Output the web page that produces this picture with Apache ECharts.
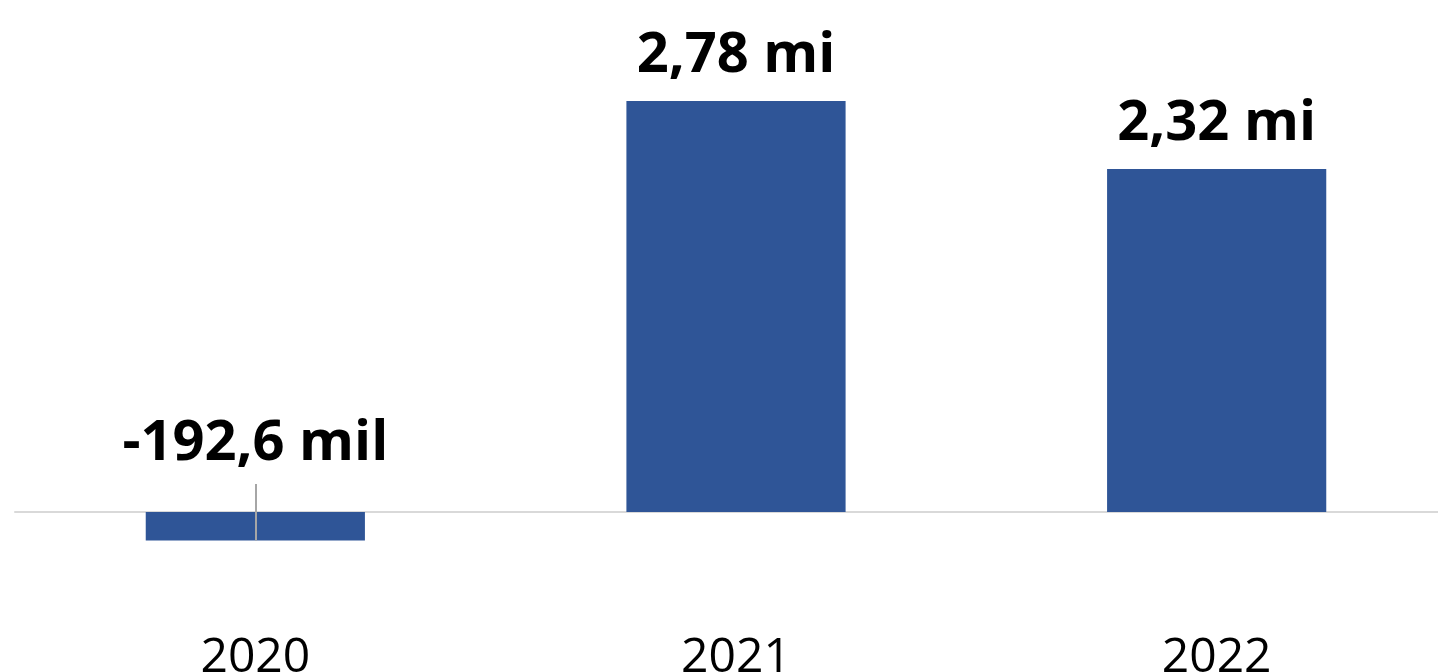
<!DOCTYPE html>
<html>
<head>
<meta charset="utf-8">
<script src="https://cdn.jsdelivr.net/npm/echarts@6/dist/echarts.min.js"></script>
<style>
html, body { margin: 0; padding: 0; background: #fff; }
#chart { width: 1438px; height: 672px; }
</style>
</head>
<body>
<div id="chart"></div>
<script>
// dados (em milhões)
var years = ["2020", "2021", "2022"];
var values = [-0.1926, 2.78, 2.32];
var valueLabels = ["-192,6 mil", "2,78 mi", "2,32 mi"];

var chart = echarts.init(document.getElementById('chart'));

var seriesData = values.map(function (v, i) {
    var item = { value: v };
    if (v < 0) {
        // rótulo acima do eixo, ligado à barra por uma linha
        item.label = { position: 'top', distance: 40 };
    }
    return item;
});

var option = {
    animation: false,
    grid: { left: 15, width: 1442, top: 0, bottom: 72, outerBoundsMode: 'none', containLabel: false },
    xAxis: {
        type: 'category',
        data: years,
        axisLine: { lineStyle: { color: '#d9d9d9', width: 2 } },
        axisTick: { show: false },
        axisLabel: {
            color: '#000',
            fontFamily: 'Open Sans',
            fontSize: 48,
            margin: 34
        }
    },
    yAxis: {
        type: 'value',
        min: -0.595,
        max: 3.464,
        show: false,
        splitLine: { show: false }
    },
    series: [{
        type: 'bar',
        data: seriesData,
        barWidth: '45.6%',
        itemStyle: { color: '#2f5597' },
        label: {
            show: true,
            position: 'top',
            distance: 17,
            color: '#000',
            fontFamily: 'Open Sans',
            fontWeight: 'bold',
            fontSize: 56,
            formatter: function (p) { return valueLabels[p.dataIndex]; }
        },
        markLine: {
            silent: true,
            symbol: 'none',
            label: { show: false },
            lineStyle: { color: '#a6a6a6', width: 2, type: 'solid' },
            data: [[
                { coord: [years[0], 0.19] },
                { coord: [years[0], values[0]] }
            ]]
        }
    }]
};

chart.setOption(option);
</script>
</body>
</html>
